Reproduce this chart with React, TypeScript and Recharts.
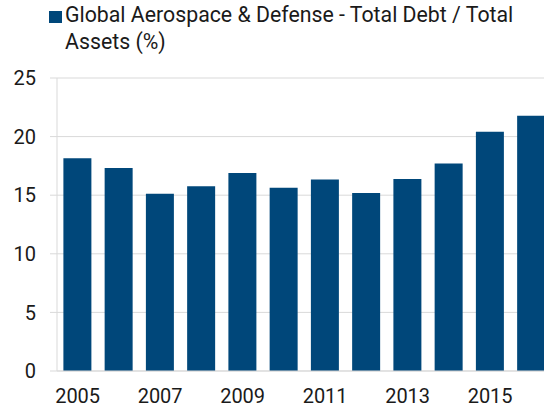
import React from "react";
import { BarChart, Bar, XAxis, YAxis, CartesianGrid, Legend } from "recharts";

const years = ["2005", "2006", "2007", "2008", "2009", "2010", "2011", "2012", "2013", "2014", "2015", "2016"];
const debtToAssets = [18.15, 17.33, 15.13, 15.77, 16.9, 15.64, 16.33, 15.19, 16.39, 17.7, 20.41, 21.78];
const yTicks = [0, 5, 10, 15, 20, 25];
const seriesName = "Global Aerospace & Defense - Total Debt / Total Assets (%)";

const data = years.map((y, i) => ({ year: y, value: debtToAssets[i] }));

const FONT = "Roboto, 'Noto Sans', sans-serif";
const BAR = "#00477A";
const GRID = "#d9d9d9";

const LegendContent = () => (
  <div style={{ fontFamily: FONT, fontSize: 21.3, color: "#1a1a1a", lineHeight: "27px", position: "relative", paddingLeft: 16, width: 475, textAlign: "left" }}>
    <span style={{ position: "absolute", left: 0, top: 10, width: 13, height: 12, background: BAR }} />
    <div>Global Aerospace &amp; Defense - Total Debt / Total</div>
    <div>Assets (%)</div>
  </div>
);

export default function App() {
  return (
    <div style={{ position: "fixed", left: 0, top: 0, width: 544, height: 410, overflow: "hidden", background: "#fff" }}>
      <BarChart
        width={552}
        height={410}
        data={data}
        margin={{ top: 78, right: 0, bottom: 0, left: 0 }}
        barCategoryGap="15.5%"
      >
        <CartesianGrid vertical={false} stroke={GRID} strokeWidth={1} />
        <XAxis
          dataKey="year"
          interval={1}
          tickLine={false}
          tickSize={0}
          tickMargin={18}
          height={39}
          axisLine={{ stroke: GRID }}
          tick={{ fill: "#1a1a1a", fontSize: 20, fontFamily: FONT }}
        />
        <YAxis
          domain={[0, 25]}
          ticks={yTicks}
          width={57}
          tickSize={7}
          tickMargin={14}
          tickLine={{ stroke: GRID }}
          axisLine={{ stroke: GRID }}
          tick={{ fill: "#1a1a1a", fontSize: 20, fontFamily: FONT }}
        />
        <Legend
          verticalAlign="middle"
          align="center"
          content={<LegendContent />}
          wrapperStyle={{ top: 1, left: 49, width: 485 }}
        />
        <Bar dataKey="value" name={seriesName} fill={BAR} isAnimationActive={false} />
      </BarChart>
    </div>
  );
}
